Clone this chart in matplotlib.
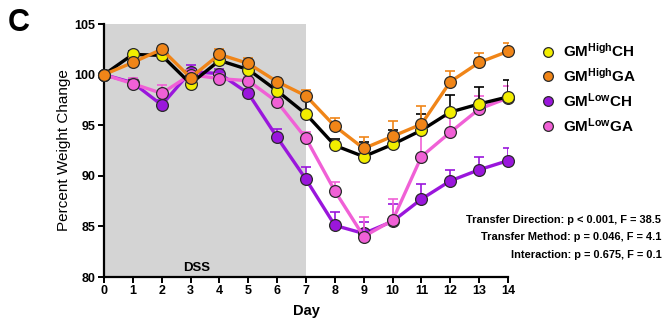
import matplotlib
matplotlib.use('Agg')
import matplotlib.pyplot as plt
from matplotlib.lines import Line2D
import numpy as np

plt.rcParams['font.family'] = ['Liberation Sans', 'DejaVu Sans']
plt.rcParams['mathtext.fontset'] = 'custom'
plt.rcParams['mathtext.rm'] = 'Liberation Sans'
plt.rcParams['mathtext.bf'] = 'Liberation Sans:bold'

days = np.arange(15)

# mean percent weight, upper SEM
high_ch = [100, 102.0, 101.9, 99.1, 101.4, 100.5, 98.4, 96.1, 93.0, 91.9, 93.1, 94.5, 96.3, 97.1, 97.8]
high_ch_err = [0, 0.3, 0.3, 0.5, 0.4, 0.4, 0.5, 1.9, 0.6, 1.4, 1.45, 1.65, 1.65, 1.65, 1.65]
high_ga = [100, 101.2, 102.5, 99.7, 102.0, 101.1, 99.3, 97.9, 94.9, 92.7, 93.9, 95.1, 99.3, 101.2, 102.3]
high_ga_err = [0, 0.4, 0.3, 0.4, 0.5, 0.5, 0.4, 0.56, 0.83, 1.09, 1.55, 1.78, 1.09, 0.93, 0.86]
low_ch = [100, 99.2, 97.0, 100.3, 100.1, 98.15, 93.8, 89.65, 85.1, 84.3, 85.5, 87.7, 89.5, 90.6, 91.5]
low_ch_err = [0, 0.4, 0.5, 0.66, 0.5, 0.4, 0.8, 1.18, 1.28, 1.1, 1.7, 1.48, 1.06, 1.25, 1.25]
low_ga = [100, 99.1, 98.15, 100.0, 99.6, 99.4, 97.3, 93.7, 88.5, 84.0, 85.6, 91.9, 94.3, 96.6, 97.7]
low_ga_err = [0, 0.55, 0.8, 0.5, 0.5, 0.4, 0.5, 0.6, 0.86, 1.9, 2.15, 2.8, 1.5, 1.25, 1.2]

labels = [r'$\mathbf{GM^{High}CH}$', r'$\mathbf{GM^{High}GA}$',
          r'$\mathbf{GM^{Low}CH}$', r'$\mathbf{GM^{Low}GA}$']
face_colors = ['#f2ee00', '#f08518', '#9a16dc', '#f060d6']
line_colors = ['#000000', '#f08518', '#9a16dc', '#f060d6']
dss_end = 7

fig = plt.figure(figsize=(6.68, 3.26), dpi=100)
ax = fig.add_axes([0.1557, 0.1503, 0.6048, 0.776])

ax.axvspan(0, dss_end, color='#d4d4d4', zorder=0, lw=0)
ax.text(3.2, 80.25, 'DSS', ha='center', va='bottom', fontsize=9.5, fontweight='bold')

series = [(high_ch, high_ch_err), (high_ga, high_ga_err), (low_ch, low_ch_err), (low_ga, low_ga_err)]
z_order = [3, 4, 1, 2]
for (vals, err), fc, lc, z in zip(series, face_colors, line_colors, z_order):
    vals = np.array(vals)
    ax.errorbar(days, vals, yerr=[np.zeros(len(err)), err], fmt='none', ecolor=lc,
                elinewidth=1.2, capsize=3.5, capthick=1.2, zorder=z * 2)
    ax.plot(days, vals, '-o', color=lc, lw=2.4, markersize=8.5, markerfacecolor=fc,
            markeredgecolor='#2a2a2a', markeredgewidth=0.9, zorder=z * 2 + 1, clip_on=False)

ax.set_xlim(0, 14)
ax.set_ylim(80, 105)
ax.set_xticks(days)
ax.set_yticks(np.arange(80, 106, 5))
for s in ['top', 'right']:
    ax.spines[s].set_visible(False)
for s in ['left', 'bottom']:
    ax.spines[s].set_linewidth(1.6)
ax.tick_params(width=1.4, length=4, labelsize=9, pad=2)
for lab in ax.get_xticklabels() + ax.get_yticklabels():
    lab.set_fontweight('bold')
ax.set_xlabel('Day', fontsize=10.5, fontweight='bold', labelpad=5)
ax.set_ylabel('Percent Weight Change', fontsize=11, labelpad=3)

handles = [Line2D([], [], ls='none', marker='o', markersize=7, markerfacecolor=fc,
                  markeredgecolor='#2a2a2a', markeredgewidth=0.9) for fc in face_colors]
fig.legend(handles, labels, loc='upper left', bbox_to_anchor=(0.8025, 0.89), frameon=False,
           fontsize=11, handlelength=0.8, handletextpad=0.55, labelspacing=0.43,
           borderaxespad=0)

stats = ['Transfer Direction: p < 0.001, F = 38.5',
         'Transfer Method: p = 0.046, F = 4.1',
         'Interaction: p = 0.675, F = 0.1']
for i, line in enumerate(stats):
    fig.text(0.99, 0.326 - i * 0.054, line, ha='right', va='center',
             fontsize=7.9, fontweight='bold')

fig.text(0.012, 0.975, 'C', ha='left', va='top', fontsize=22, fontweight='bold')

fig.savefig('out.png', dpi=100)
